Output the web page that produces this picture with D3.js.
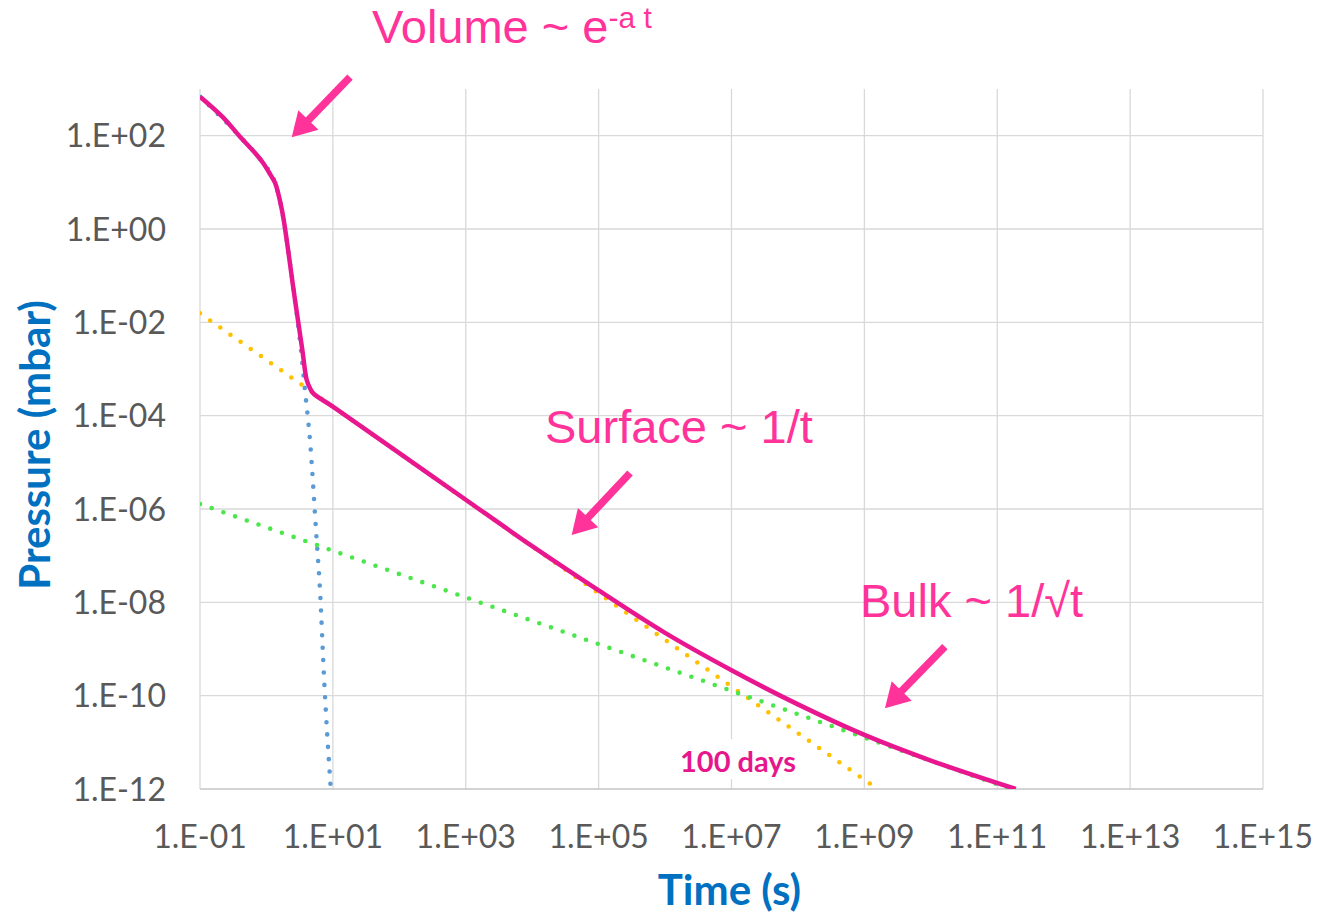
<!DOCTYPE html>
<html>
<head>
<meta charset="utf-8">
<script src="https://cdn.jsdelivr.net/npm/d3@7"></script>
<style>
  body { margin: 0; background: #fff; }
  svg { display: block; }
</style>
</head>
<body>
<svg id="chart" width="1318" height="915"></svg>
<script>
const totalWidth = 1318;
const totalHeight = 915;
const margins = { top: 89, right: 55, bottom: 126, left: 200 };
const innerWidth = totalWidth - margins.left - margins.right;
const innerHeight = totalHeight - margins.top - margins.bottom;

// tick values (time in s, pressure in mbar)
const timeTicks = [1e-1, 1e1, 1e3, 1e5, 1e7, 1e9, 1e11, 1e13, 1e15];
const pressureTicks = [1e-12, 1e-10, 1e-8, 1e-6, 1e-4, 1e-2, 1e0, 1e2];

// series: [time, pressure]
const volumeSeries = [
    [0.1, 684], [0.40, 95], [0.89, 26], [1.35, 9.7], [1.71, 2.55],
    [2.05, 0.50], [2.60, 0.0426], [3.31, 2.55e-3], [3.80, 3.55e-4],
    [4.52, 3.0e-5], [5.70, 2.17e-7], [6.40, 1.84e-8], [7.35, 2.55e-10],
    [9.27, 1.05e-12]
];
const surfaceSeries = [[0.1, 1.56e-2], [1.58e9, 1e-12]];
const bulkSeries = [[0.1, 1.28e-6], [1.6e11, 1e-12]];
const totalSeries = [
    [0.1, 684], [0.22, 250], [0.40, 95], [0.65, 45], [0.89, 26],
    [1.15, 14.5], [1.35, 9.7], [1.71, 2.55], [2.05, 0.50], [2.60, 0.0426],
    [3.47, 2.55e-3], [4.04, 5.8e-4], [4.53, 3.86e-4], [5.07, 3.0e-4],
    [10, 1.56e-4], [100, 1.58e-5], [1e3, 1.58e-6], [1e4, 1.6e-7],
    [1e5, 1.8e-8], [1e6, 2.21e-9], [1e7, 3.5e-10], [1e8, 6.5e-11],
    [1e9, 1.44e-11], [1e10, 4.07e-12], [1.9e11, 1e-12]
];

// annotation anchors in data units
const arrows = [
    { tail: [18.1, 1800], tip: [2.4, 92] },
    { tail: [2.97e5, 5.9e-6], tip: [3.93e4, 2.77e-7] },
    { tail: [1.63e10, 1.12e-9], tip: [2.04e9, 5.4e-11] }
];

function expLabel(v) {
    let e = Math.round(Math.log10(v));
    let s = String(Math.abs(e)).padStart(2, "0");
    return "1.E" + (e < 0 ? "-" : "+") + s;
}

let chart = d3.select("#chart");

let xscale = d3.scaleLog([1e-1, 1e15], [margins.left, margins.left + innerWidth]);
let yscale = d3.scaleLog([1e-12, 1e3], [margins.top + innerHeight, margins.top]);

// gridlines
chart.selectAll(".vgrid").data(timeTicks).enter()
    .append("line")
    .attr("class", "vgrid")
    .attr("x1", d => xscale(d)).attr("x2", d => xscale(d))
    .attr("y1", margins.top).attr("y2", margins.top + innerHeight)
    .attr("stroke", "#d9d9d9").attr("stroke-width", 1.3);

chart.selectAll(".hgrid").data(pressureTicks.slice(1)).enter()
    .append("line")
    .attr("class", "hgrid")
    .attr("x1", margins.left).attr("x2", margins.left + innerWidth)
    .attr("y1", d => yscale(d)).attr("y2", d => yscale(d))
    .attr("stroke", "#d9d9d9").attr("stroke-width", 1.3);

// bottom axis line
chart.append("line")
    .attr("x1", margins.left).attr("x2", margins.left + innerWidth)
    .attr("y1", yscale(1e-12)).attr("y2", yscale(1e-12))
    .attr("stroke", "#c4c4c4").attr("stroke-width", 1.6);

// tick labels
chart.selectAll(".xlab").data(timeTicks).enter()
    .append("text")
    .attr("class", "xlab")
    .attr("x", d => xscale(d))
    .attr("y", margins.top + innerHeight + 59)
    .attr("text-anchor", "middle")
    .style("font-family", "Lato, sans-serif")
    .style("font-size", "32px")
    .attr("fill", "#595959")
    .text(expLabel);

chart.selectAll(".ylab").data(pressureTicks).enter()
    .append("text")
    .attr("class", "ylab")
    .attr("x", margins.left - 34)
    .attr("y", d => yscale(d))
    .attr("dy", "0.36em")
    .attr("text-anchor", "end")
    .style("font-family", "Lato, sans-serif")
    .style("font-size", "32px")
    .attr("fill", "#595959")
    .text(expLabel);

// axis titles
chart.append("text")
    .attr("x", margins.left + innerWidth / 2 - 2)
    .attr("y", 905)
    .attr("text-anchor", "middle")
    .style("font-family", "Lato, sans-serif")
    .style("font-weight", "bold")
    .style("font-size", "42px")
    .attr("fill", "#0070c0")
    .text("Time (s)");

chart.append("text")
    .attr("transform", "translate(50," + (margins.top + innerHeight / 2 + 6) + ")rotate(-90)")
    .attr("text-anchor", "middle")
    .style("font-family", "Lato, sans-serif")
    .style("font-weight", "bold")
    .style("font-size", "42px")
    .attr("fill", "#0070c0")
    .text("Pressure (mbar)");

// "100 days" label with white box over the grid
let daysX = xscale(1.68e6);
let daysY = yscale(2.3e-12);
chart.append("rect")
    .attr("x", daysX - 6).attr("y", daysY - 33)
    .attr("width", 132).attr("height", 40)
    .attr("fill", "#fff");
chart.append("text")
    .attr("x", daysX).attr("y", daysY)
    .style("font-family", "Lato, sans-serif")
    .style("font-weight", "bold")
    .style("font-size", "29px")
    .attr("fill", "#e6178c")
    .text("100 days");

// clip for the series
chart.append("clipPath").attr("id", "plotclip")
    .append("rect")
    .attr("x", margins.left).attr("y", margins.top)
    .attr("width", innerWidth).attr("height", innerHeight);

let line = d3.line()
    .x(d => xscale(d[0]))
    .y(d => yscale(d[1]))
    .curve(d3.curveMonotoneX);

let smoothLine = d3.line()
    .x(d => xscale(d[0]))
    .y(d => yscale(d[1]))
    .curve(d3.curveCatmullRom.alpha(0.5));

let dotted = [
    { data: volumeSeries, color: "#5b9bd5" },
    { data: surfaceSeries, color: "#ffc000" },
    { data: bulkSeries, color: "#4ce64c" }
];

let plot = chart.append("g").attr("clip-path", "url(#plotclip)");

plot.selectAll(".dots").data(dotted).enter()
    .append("path")
    .attr("class", "dots")
    .attr("d", d => line(d.data))
    .attr("fill", "none")
    .attr("stroke", d => d.color)
    .attr("stroke-width", 4.6)
    .attr("stroke-linecap", "round")
    .attr("stroke-dasharray", "0 12.4");

plot.append("path")
    .attr("d", smoothLine(totalSeries))
    .attr("fill", "none")
    .attr("stroke", "#e8168f")
    .attr("stroke-width", 4.5)
    .attr("stroke-linejoin", "round");

// annotation arrows
const pink = "#ff3399";
arrows.forEach(a => {
    let x0 = xscale(a.tail[0]), y0 = yscale(a.tail[1]);
    let x1 = xscale(a.tip[0]), y1 = yscale(a.tip[1]);
    let ang = Math.atan2(y1 - y0, x1 - x0);
    let headLen = 24, headW = 14;
    let bx = x1 - headLen * Math.cos(ang), by = y1 - headLen * Math.sin(ang);
    let px = -Math.sin(ang), py = Math.cos(ang);
    chart.append("line")
        .attr("x1", x0).attr("y1", y0)
        .attr("x2", bx + 2 * Math.cos(ang)).attr("y2", by + 2 * Math.sin(ang))
        .attr("stroke", pink).attr("stroke-width", 7.5);
    chart.append("polygon")
        .attr("points", [[x1, y1], [bx + px * headW, by + py * headW], [bx - px * headW, by - py * headW]]
            .map(p => p.join(",")).join(" "))
        .attr("fill", pink);
});

// annotation texts
let ann = chart.append("g")
    .style("font-family", "'Liberation Sans', Arial, sans-serif")
    .style("font-size", "47px")
    .attr("fill", pink);

let vol = ann.append("text").attr("x", xscale(38.8)).attr("y", yscale(9.7e3));
vol.append("tspan").text("Volume ~ e");
vol.append("tspan").attr("dy", -15).style("font-size", "30px").text("-a t");

ann.append("text").attr("x", xscale(1.56e4)).attr("y", yscale(2.6e-5)).text("Surface ~ 1/t");
ann.append("text").attr("x", xscale(8.6e8)).attr("y", yscale(4.9e-9)).text("Bulk ~ 1/\u221At");
</script>
</body>
</html>
